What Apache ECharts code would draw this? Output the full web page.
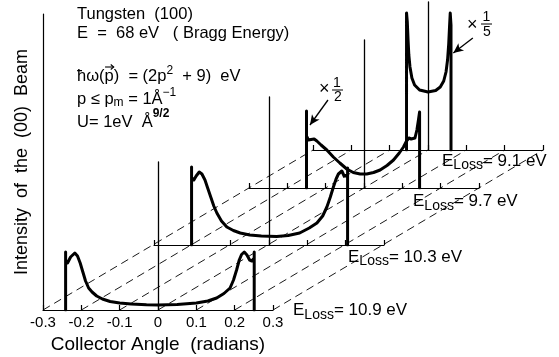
<!DOCTYPE html>
<html>
<head>
<meta charset="utf-8">
<script src="https://cdn.jsdelivr.net/npm/echarts@6/dist/echarts.min.js"></script>
<style>html,body{margin:0;padding:0;background:#fff}#c{width:559px;height:357px}</style>
</head>
<body>
<div id="c"></div>
<script>
// ---------------- data ----------------
const angleTicks = [-0.3, -0.2, -0.1, 0, 0.1, 0.2, 0.3];
const tickLabels = ['-0.3', '-0.2', '-0.1', '0', '0.1', '0.2', '0.3'];
const lossValues = ['10.9', '10.3', '9.7', '9.1'];
// intensity (arbitrary units) vs collector angle (radians)
const beam109 = [[-0.241,0],[-0.241,58],[-0.241,50],[-0.236,47],[-0.228,53],[-0.217,57],[-0.21,54],[-0.203,47],[-0.196,38],[-0.189,29],[-0.181,22],[-0.172,18],[-0.16,14],[-0.145,11],[-0.125,8.5],[-0.1,7],[-0.07,6],[-0.03,5.2],[0,5],[0.05,5.5],[0.1,7],[0.13,9],[0.153,12],[0.172,16.5],[0.188,22],[0.197,30],[0.205,40],[0.212,50],[0.218,55.5],[0.225,58],[0.232,55],[0.239,50],[0.245,49],[0.251,52],[0.251,58],[0.251,0]];
const beam103 = [[-0.202,0],[-0.202,78],[-0.202,67],[-0.196,65],[-0.19,69],[-0.182,73],[-0.175,71],[-0.167,65],[-0.16,57],[-0.152,48],[-0.144,39],[-0.136,32],[-0.124,24],[-0.11,18],[-0.093,14.5],[-0.075,12],[-0.05,10],[-0.02,9],[0.02,8.5],[0.05,9.5],[0.08,12],[0.105,17],[0.125,22],[0.14,29],[0.151,38],[0.16,48],[0.168,58],[0.175,66],[0.181,71],[0.19,74],[0.196,69],[0.2,67],[0.205,70],[0.205,77],[0.205,0]];
const beam97 = [[-0.15,0],[-0.15,77],[-0.15,52],[-0.145,48],[-0.138,48.5],[-0.13,49],[-0.123,47],[-0.112,43],[-0.097,38],[-0.08,31],[-0.063,25],[-0.045,19],[-0.028,15.5],[-0.01,14],[0.007,14],[0.025,15.5],[0.042,18],[0.06,22.5],[0.077,28],[0.092,35],[0.103,41],[0.111,47],[0.117,50],[0.123,49],[0.128,47.5],[0.133,50],[0.138,58],[0.142,68],[0.145,76],[0.145,0]];
const beam91 = [[-0.056,0],[-0.056,137],[-0.054,128],[-0.052,110],[-0.05,95],[-0.047,83],[-0.042,72],[-0.035,65],[-0.022,60],[0,58],[0.02,59.5],[0.032,63],[0.041,69],[0.047,78],[0.051,90],[0.054,106],[0.056,122],[0.058,137],[0.06,125],[0.06,0]];
const beams = [beam109, beam103, beam97, beam91];

// ---------------- layout ----------------
const FONT = '"Liberation Sans", Arial, sans-serif';
const PW = 230, PH = 148;
const panelPos = [
  {left: 43, bottom: 310},
  {left: 154, bottom: 245},
  {left: 249, bottom: 188},
  {left: 313, bottom: 150}
];
const grids = [{left: 43, top: 14, width: 230, height: 296, containLabel: false, outerBoundsMode: 'none'}];
panelPos.forEach(p => grids.push({left: p.left, top: p.bottom - PH, width: PW, height: PH, containLabel: false, outerBoundsMode: 'none'}));

const black = '#000';
const xAxes = grids.map((g, i) => ({
  gridIndex: i, type: 'value', min: -0.3, max: 0.3, interval: 0.1,
  axisLine: {show: i !== 1, onZero: false, lineStyle: {color: black, width: 1.2}},
  axisTick: {show: i !== 1, inside: true, length: 5, lineStyle: {color: black, width: 1.2}},
  axisLabel: {show: i === 0, color: black, fontFamily: FONT, fontSize: 15, margin: 5,
    formatter: v => tickLabels[Math.round(v * 10) + 3]},
  splitLine: {show: false},
  name: i === 0 ? 'Collector Angle  (radians)' : '',
  nameLocation: 'middle', nameGap: 22,
  nameTextStyle: {color: black, fontFamily: FONT, fontSize: 19}
}));
const yAxes = grids.map((g, i) => i === 0 ? {
  gridIndex: 0, type: 'value', min: 0, max: 1,
  axisLine: {show: true, onZero: false, lineStyle: {color: black, width: 1.2}},
  axisTick: {show: false}, axisLabel: {show: false}, splitLine: {show: false},
  name: 'Intensity  of  the  (00)  Beam', nameLocation: 'middle', nameGap: 12, nameRotate: 90,
  nameTextStyle: {color: black, fontFamily: FONT, fontSize: 18}
} : {
  gridIndex: i, type: 'value', min: 0, max: PH,
  axisLine: {show: true, onZero: true, lineStyle: {color: black, width: 1.3}},
  axisTick: {show: false}, axisLabel: {show: false}, splitLine: {show: false}
});

const arrowStyle = {silent: true, symbol: ['none', 'arrow'], symbolSize: [7, 10], label: {show: false},
  emphasis: {disabled: true}, animation: false};
const series = beams.map((d, k) => {
  const s = {
    type: 'line', xAxisIndex: k + 1, yAxisIndex: k + 1, data: d,
    showSymbol: false, symbol: 'none', silent: true, animation: false, z: 10 - k,
    lineStyle: {color: black, width: 3, join: 'round', cap: 'round'}
  };
  if (k === 2) s.markLine = Object.assign({}, arrowStyle, {
    lineStyle: {color: black, width: 1.3, type: 'solid', curveness: 0.3},
    data: [[{coord: [-0.094, 88]}, {coord: [-0.141, 63]}]]
  });
  if (k === 3) s.markLine = Object.assign({}, arrowStyle, {
    lineStyle: {color: black, width: 1.3, type: 'solid', curveness: -0.3},
    data: [[{coord: [0.117, 112]}, {coord: [0.066, 97]}]]
  });
  return s;
});

const chart = echarts.init(document.getElementById('c'));
chart.setOption({
  animation: false,
  backgroundColor: '#fff',
  grid: grids, xAxis: xAxes, yAxis: yAxes, series: series
});

// --------------- annotations ---------------
const HS = 16.5;
const rich = {
  sup2: {fontFamily: FONT, fontSize: 12, padding: [0, 0, 10, 0], verticalAlign: 'middle'},
  supm1: {fontFamily: FONT, fontSize: 12, padding: [0, 0, 14, 0], verticalAlign: 'middle'},
  sup92: {fontFamily: FONT, fontSize: 12, fontWeight: 'bold', padding: [0, 0, 16, 0], verticalAlign: 'middle'},
  subm: {fontFamily: FONT, fontSize: 12, padding: [7, 0, 0, 0], verticalAlign: 'middle'},
  e: {fontFamily: FONT, fontSize: 17, verticalAlign: 'middle'},
  ls: {fontFamily: FONT, fontSize: 14, padding: [9, 0, 0, 0], verticalAlign: 'middle'}
};
function text(x, y, str, size, align) {
  return {
    type: 'text', x: x, y: y, z: 50, silent: true,
    style: {text: str, fill: black, fontFamily: FONT, fontSize: size, align: align || 'left', verticalAlign: 'middle', rich: rich}
  };
}
const g = [];
const L3 = 76;
g.push(text(77, 14.5, 'Tungsten  (100)', HS));
g.push(text(77, 33.5, 'E  =  68 eV   ( Bragg Energy)', HS));
g.push(text(77, L3, 'ħω(p)  = (2p{sup2|2}  + 9)  eV', HS));
g.push(text(77, 99.5, 'p ≤ p{subm|m} = 1Å{supm1|−1}', HS));
g.push(text(77, 122, 'U= 1eV  Å{sup92|9/2}', HS));
// vector arrow over p
const mctx = document.createElement('canvas').getContext('2d');
mctx.font = HS + 'px "Liberation Sans"';
const px0 = 77 + mctx.measureText('ħω(').width;
const pw = mctx.measureText('p').width;
const ay = L3 - 9;
g.push({type: 'polyline', z: 50, silent: true, shape: {points: [[px0 + 0.5, ay], [px0 + pw, ay]]}, style: {stroke: black, lineWidth: 1.1, fill: null}});
g.push({type: 'polyline', z: 50, silent: true, shape: {points: [[px0 + pw - 3, ay - 2.5], [px0 + pw, ay], [px0 + pw - 3, ay + 2.5]]}, style: {stroke: black, lineWidth: 1.1, fill: null}});
// E_Loss labels
const lossPos = [[293, 310.5], [348, 257], [413, 201.5], [442, 161]];
lossValues.forEach((v, k) => {
  g.push(text(lossPos[k][0], lossPos[k][1], '{e|E}{ls|Loss}{e|= ' + v + ' eV}', 17));
});
// scale factors
g.push(text(319, 89, '×', 18));
g.push(text(337, 83, '1', 14, 'center'));
g.push({type: 'line', z: 50, silent: true, shape: {x1: 332, y1: 90, x2: 343, y2: 90}, style: {stroke: black, lineWidth: 1}});
g.push(text(338, 97.5, '2', 14, 'center'));
g.push(text(467, 25.5, '×', 18));
g.push(text(486.5, 17, '1', 14, 'center'));
g.push({type: 'line', z: 50, silent: true, shape: {x1: 481, y1: 24, x2: 492, y2: 24}, style: {stroke: black, lineWidth: 1}});
g.push(text(487, 32, '5', 14, 'center'));

// dashed guide lines joining equal angles across panels
angleTicks.forEach(v => {
  const a = chart.convertToPixel({seriesIndex: 0}, [v, 0]);
  const b = chart.convertToPixel({seriesIndex: 3}, [v, 0]);
  g.push({type: 'line', z: 1, silent: true,
    shape: {x1: a[0], y1: a[1], x2: b[0], y2: b[1]},
    style: {stroke: black, lineWidth: 0.9, lineDash: [8, 5]}});
});
chart.setOption({graphic: g});
</script>
</body>
</html>
